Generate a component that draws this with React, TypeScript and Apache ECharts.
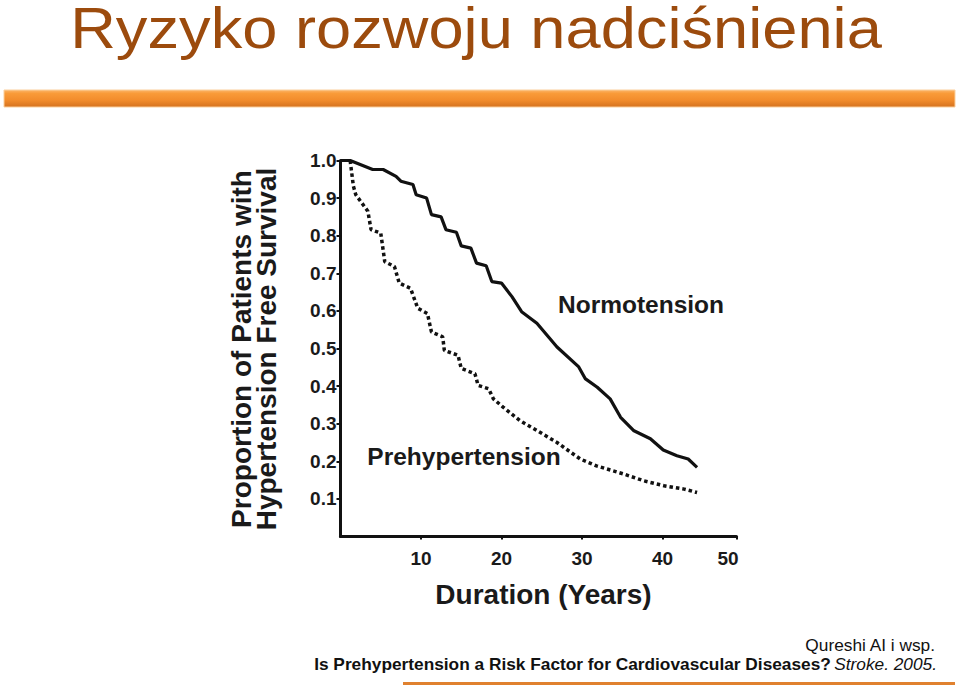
import React, { useEffect, useRef } from "react";
import * as echarts from "echarts";

const titleText = "Ryzyko rozwoju nadciśnienia";
const yAxisTitle = ["Proportion of Patients with", "Hypertension Free Survival"];
const xAxisTitle = "Duration (Years)";
const seriesNames = ["Normotension", "Prehypertension"];
const sourceAuthor = "Qureshi AI i wsp.";
const sourceTitle = "Is Prehypertension a Risk Factor for Cardiovascular Diseases?";
const sourceJournal = "Stroke. 2005.";

const normotensionYears = [0, 1.2, 4.0, 5.3, 6.9, 7.5, 9.0, 9.4, 10.7, 11.3, 12.5, 13.1, 14.4, 15.0, 16.2, 16.9, 18.1, 18.8, 20.0, 21.3, 22.5, 24.4, 26.9, 29.6, 30.4, 31.9, 33.5, 34.8, 36.4, 38.5, 40.1, 41.8, 43.2, 44.3];
const normotensionSurvival = [1.0, 1.0, 0.976, 0.976, 0.958, 0.945, 0.936, 0.909, 0.9, 0.856, 0.85, 0.816, 0.809, 0.773, 0.767, 0.727, 0.72, 0.678, 0.674, 0.638, 0.598, 0.567, 0.504, 0.451, 0.42, 0.397, 0.366, 0.317, 0.282, 0.26, 0.23, 0.215, 0.206, 0.184];

const prehypertensionYears = [1.2, 1.6, 1.9, 3.4, 3.8, 5.0, 5.5, 6.7, 7.3, 8.7, 9.6, 10.8, 11.3, 12.7, 12.9, 14.6, 15.0, 16.7, 17.1, 18.4, 19.0, 20.2, 22.3, 24.4, 26.9, 29.8, 31.8, 35.2, 37.7, 40.2, 42.7, 44.3];
const prehypertensionSurvival = [1.0, 0.932, 0.909, 0.865, 0.816, 0.807, 0.731, 0.718, 0.674, 0.66, 0.607, 0.593, 0.544, 0.531, 0.495, 0.482, 0.447, 0.433, 0.402, 0.393, 0.366, 0.344, 0.308, 0.282, 0.25, 0.206, 0.188, 0.166, 0.148, 0.135, 0.126, 0.117];

const xTickLabels = ["10", "20", "30", "40", "50"];

const FONT = '"Liberation Sans", Arial, Helvetica, sans-serif';

export default function App() {
  const ref = useRef<HTMLDivElement>(null);

  useEffect(() => {
    if (!ref.current) return;
    const chart = echarts.init(ref.current, null, { renderer: "svg" });
    const xMax = 49.2;
    const normData = normotensionYears.map((t, i) => [t, normotensionSurvival[i]]);
    const preData = prehypertensionYears.map((t, i) => [t, prehypertensionSurvival[i]]);

    chart.setOption({
      animation: false,
      backgroundColor: "#ffffff",
      grid: { left: 340.5, right: 223.5, top: 160.5, bottom: 151.5 },
      xAxis: {
        type: "value",
        min: 0,
        max: xMax,
        interval: 10,
        name: xAxisTitle,
        nameLocation: "middle",
        nameGap: 44,
        nameTextStyle: { fontFamily: FONT, fontWeight: "bold", fontSize: 28, color: "#1a1a1a", padding: [0, 0, 0, 10] },
        axisLine: { show: true, lineStyle: { color: "#111", width: 3 } },
        axisTick: { show: true, length: 3, lineStyle: { color: "#111", width: 2 } },
        splitLine: { show: false },
        axisLabel: {
          showMinLabel: false,
          margin: 12,
          fontFamily: FONT,
          fontWeight: "bold",
          fontSize: 19,
          color: "#1a1a1a",
          formatter: (v: number) => {
            if (v === xMax) return "{m|" + xTickLabels[4] + "}";
            const idx = Math.round(v / 10) - 1;
            return xTickLabels[idx] ?? "";
          },
          rich: {
            m: { fontFamily: FONT, fontWeight: "bold", fontSize: 19, color: "#1a1a1a", padding: [0, 17, 0, 0] },
          },
        },
      },
      yAxis: {
        type: "value",
        min: 0,
        max: 1,
        interval: 0.1,
        axisLine: { show: true, lineStyle: { color: "#111", width: 3 } },
        axisTick: { show: true, length: 4, lineStyle: { color: "#111", width: 2 } },
        splitLine: { show: false },
        axisLabel: {
          showMinLabel: false,
          margin: 4,
          fontFamily: FONT,
          fontWeight: "bold",
          fontSize: 19,
          color: "#1a1a1a",
          formatter: (v: number) => v.toFixed(1),
        },
      },
      series: [
        {
          name: seriesNames[0],
          type: "line",
          data: normData,
          showSymbol: false,
          lineStyle: { color: "#111", width: 3.2 },
        },
        {
          name: seriesNames[1],
          type: "line",
          data: preData,
          showSymbol: false,
          lineStyle: { color: "#111", width: 3.5, type: [3.5, 3] },
        },
      ],
      graphic: [
        {
          type: "text",
          x: 476,
          y: 28,
          scaleX: 1.09,
          style: {
            text: titleText,
            font: "58px " + FONT,
            lineHeight: 52,
            fill: "#9c4b0d",
            align: "center",
            verticalAlign: "middle",
          },
        },
        {
          type: "rect",
          shape: { x: 4, y: 90, width: 951, height: 17 },
          style: {
            fill: new echarts.graphic.LinearGradient(0, 0, 0, 1, [
              { offset: 0, color: "#fbb56a" },
              { offset: 0.2, color: "#f99b39" },
              { offset: 0.6, color: "#f28c2c" },
              { offset: 1, color: "#d4721f" },
            ]),
            stroke: "#fbcf9c",
            lineWidth: 1,
          },
        },
        {
          type: "text",
          x: 254,
          y: 349,
          rotation: Math.PI / 2,
          style: {
            text: yAxisTitle.join("\n"),
            font: "bold 28px " + FONT,
            lineHeight: 25,
            fill: "#1a1a1a",
            align: "center",
            verticalAlign: "middle",
          },
        },
        {
          type: "text",
          x: 641,
          y: 304,
          style: { text: seriesNames[0], font: "bold 24.5px " + FONT, fill: "#1a1a1a", align: "center", verticalAlign: "middle" },
        },
        {
          type: "text",
          x: 464,
          y: 456,
          style: { text: seriesNames[1], font: "bold 24.5px " + FONT, fill: "#1a1a1a", align: "center", verticalAlign: "middle" },
        },
        {
          type: "text",
          x: 935,
          y: 645,
          style: { text: sourceAuthor, font: "17.3px " + FONT, fill: "#111", align: "right", verticalAlign: "middle" },
        },
        {
          type: "text",
          x: 937,
          y: 664,
          style: {
            text: "{b|" + sourceTitle + "} {i|" + sourceJournal + "}",
            align: "right",
            verticalAlign: "middle",
            rich: {
              b: { fontFamily: FONT, fontWeight: "bold", fontSize: 17.3, fill: "#111" },
              i: { fontFamily: FONT, fontStyle: "italic", fontSize: 17.3, fill: "#111" },
            },
          },
        },
        {
          type: "rect",
          shape: { x: 403, y: 682, width: 552, height: 3 },
          style: { fill: "#e0812f" },
        },
      ],
    });
    return () => chart.dispose();
  }, []);

  return (
    <div
      ref={ref}
      style={{ position: "fixed", left: 0, top: 0, width: 960, height: 688, background: "#fff" }}
    />
  );
}
